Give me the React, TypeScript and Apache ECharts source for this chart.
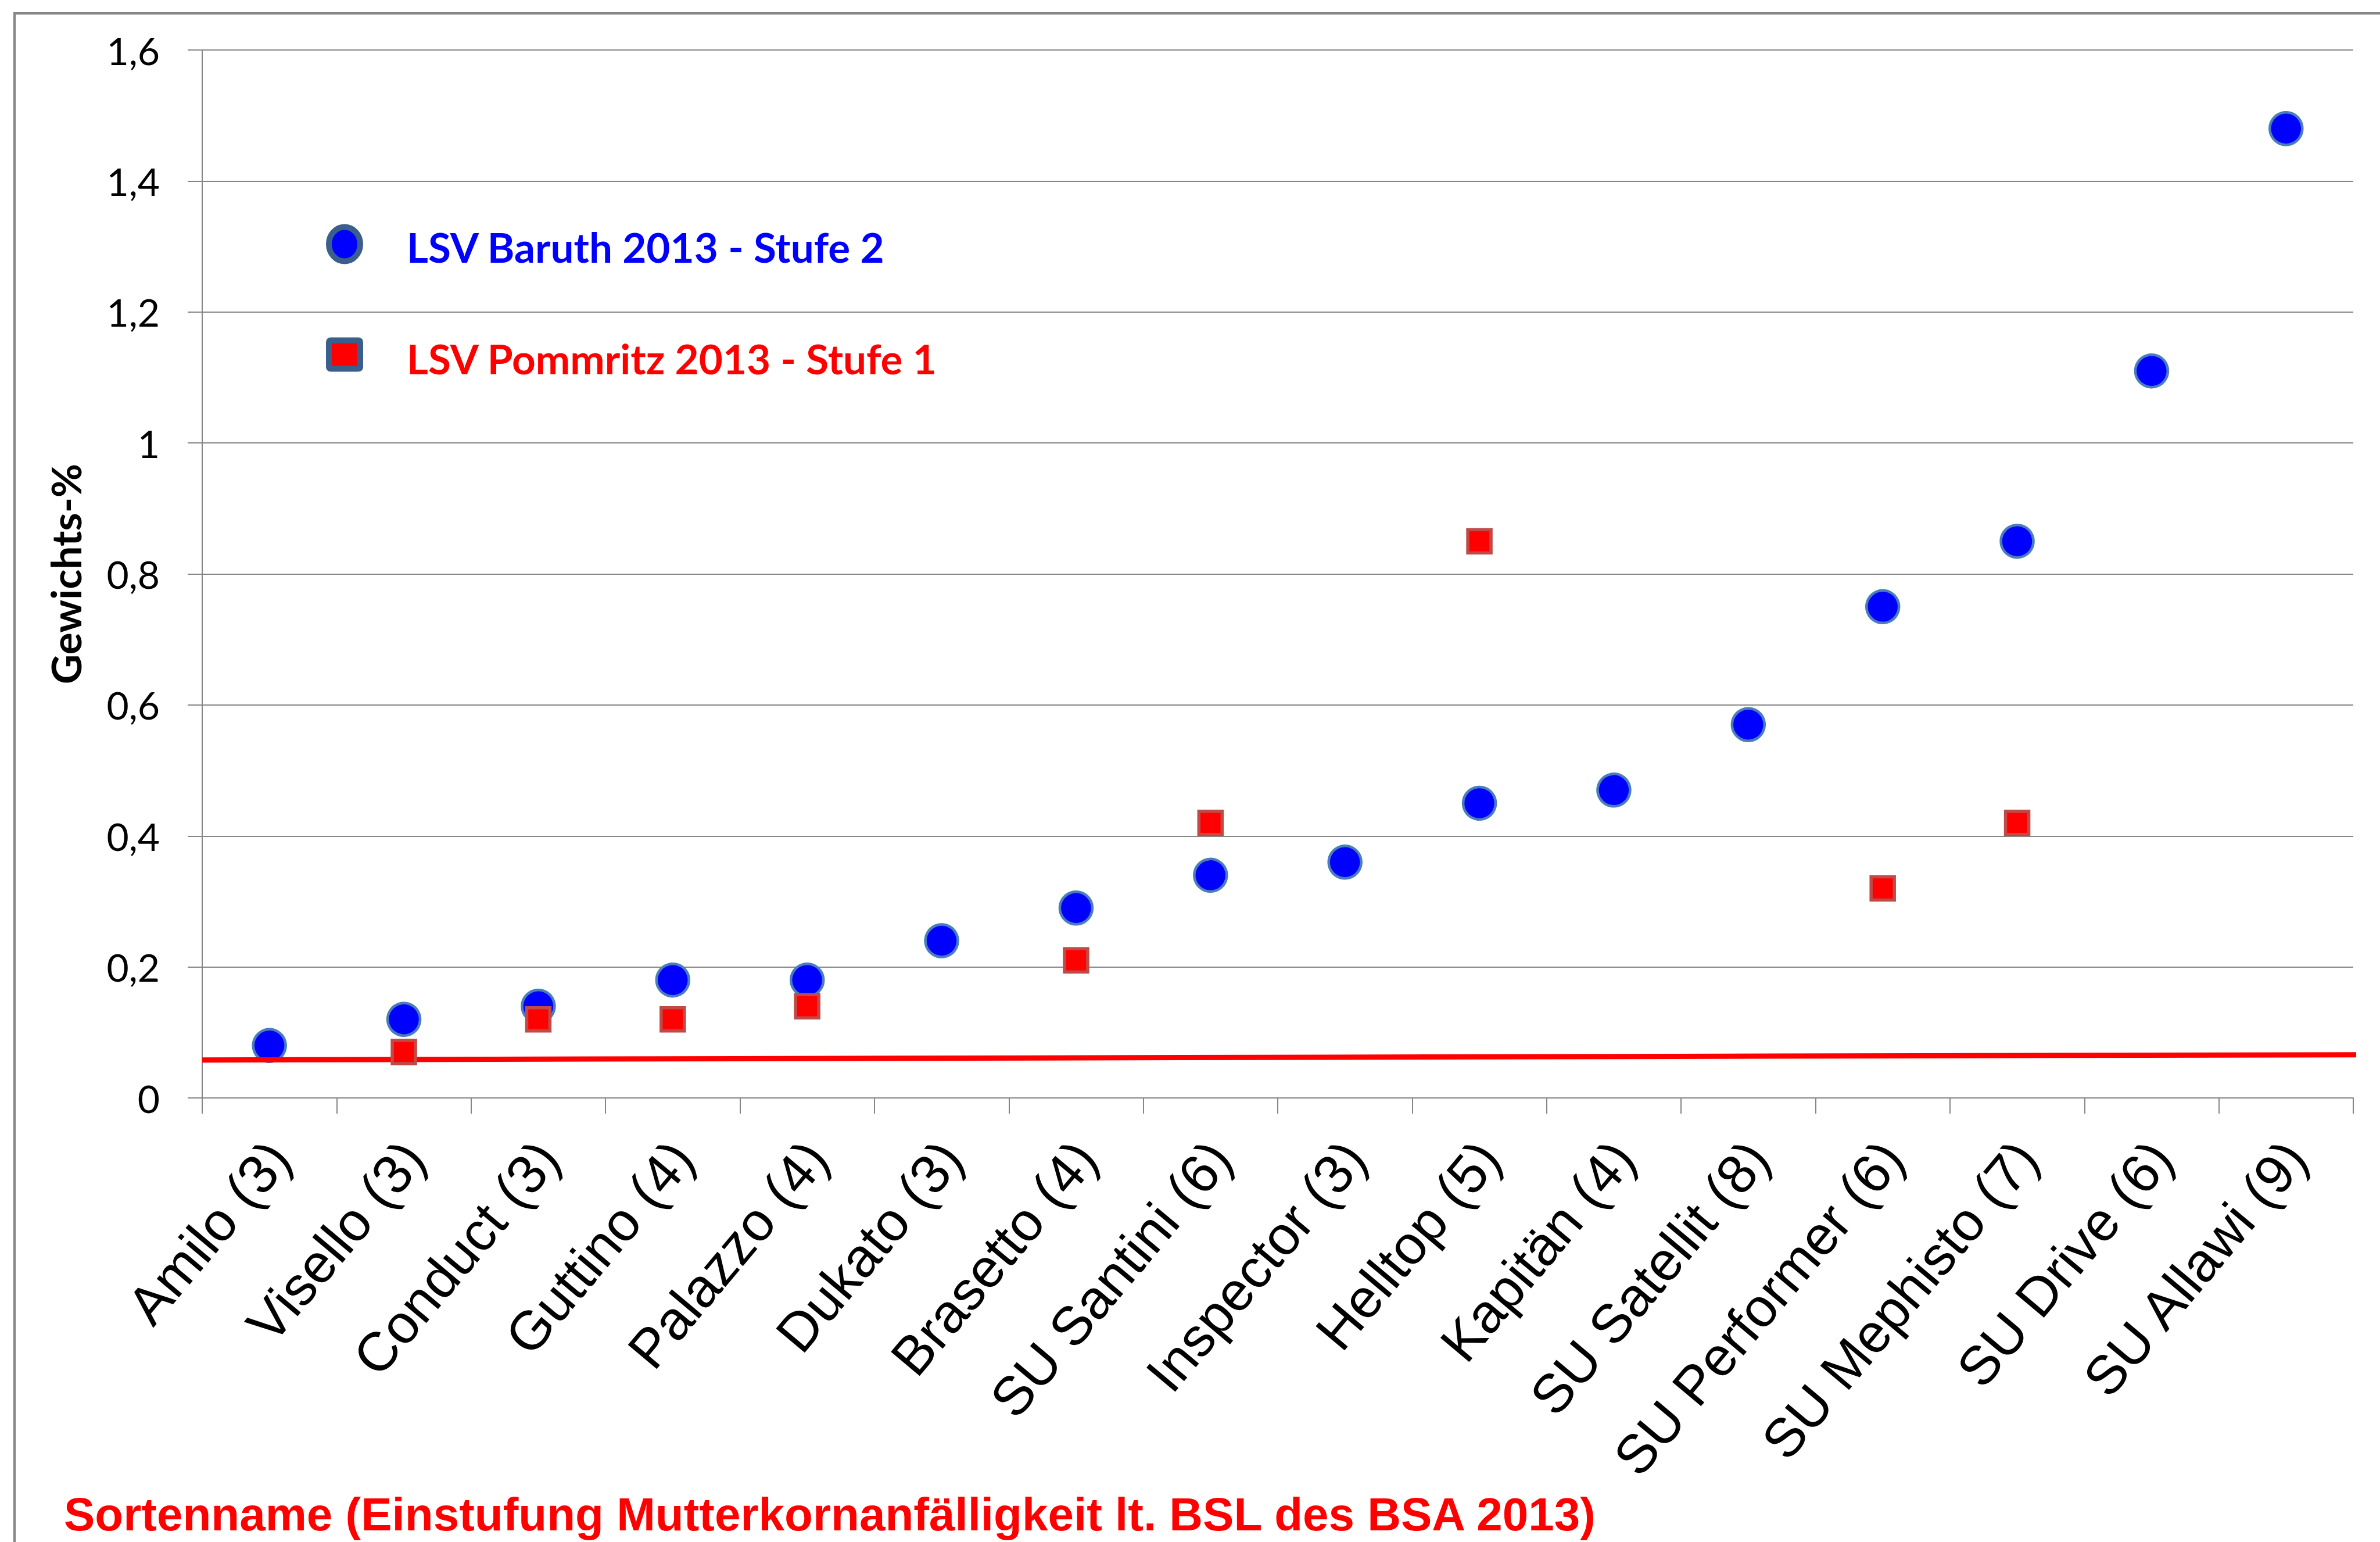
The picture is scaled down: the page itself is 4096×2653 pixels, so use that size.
import React, { useEffect, useRef } from "react";
import * as echarts from "echarts";

const categories = [
  "Amilo (3)",
  "Visello (3)",
  "Conduct (3)",
  "Guttino (4)",
  "Palazzo (4)",
  "Dukato (3)",
  "Brasetto (4)",
  "SU Santini (6)",
  "Inspector (3)",
  "Helltop (5)",
  "Kapitän (4)",
  "SU Satellit (8)",
  "SU Performer (6)",
  "SU Mephisto (7)",
  "SU Drive (6)",
  "SU Allawi (9)",
];

const baruthName = "LSV Baruth 2013 - Stufe 2";
const pommritzName = "LSV Pommritz 2013 - Stufe 1";

const baruth = [0.08, 0.12, 0.14, 0.18, 0.18, 0.24, 0.29, 0.34, 0.36, 0.45, 0.47, 0.57, 0.75, 0.85, 1.11, 1.48];
const pommritz = [null, 0.07, 0.12, 0.12, 0.14, null, 0.21, 0.42, null, 0.85, null, null, 0.32, 0.42, null, null];

// red reference line (start / end), x in category units
const refLine = [
  [0, 0.058],
  [16.05, 0.066],
];

const yMin = 0;
const yMax = 1.6;
const yStep = 0.2;

const yAxisName = "Gewichts-%";
const xAxisTitle = "Sortenname (Einstufung Mutterkornanfälligkeit lt. BSL des BSA 2013)";

const GRAY = "#868686";

export default function App() {
  const ref = useRef<HTMLDivElement>(null);

  useEffect(() => {
    if (!ref.current) return;
    const chart = echarts.init(ref.current, undefined, { renderer: "svg" });

    const option = {
      animation: false,
      backgroundColor: "#ffffff",
      grid: { left: 348, right: 46, top: 86, bottom: 2653 - 1889, containLabel: false },
      xAxis: [
        {
          type: "category",
          data: categories,
          boundaryGap: true,
          axisLine: { show: true, lineStyle: { color: GRAY, width: 2 } },
          axisTick: { show: true, interval: 0, length: 27, lineStyle: { color: GRAY, width: 2 } },
          splitLine: { show: false },
          axisLabel: {
            interval: 0,
            rotate: 50,
            margin: 34,
            align: "right",
            verticalAlign: "top",
            padding: [0, 30, 0, 0],
            color: "#000000",
            fontFamily: "'Liberation Sans', Arial, sans-serif",
            fontSize: 94,
          },
        },
        {
          type: "value",
          min: 0,
          max: 16,
          show: false,
          gridIndex: 0,
        },
      ],
      yAxis: {
        type: "value",
        min: yMin,
        max: yMax,
        interval: yStep,
        name: yAxisName,
        nameLocation: "middle",
        nameRotate: 90,
        nameGap: 200,
        nameTextStyle: {
          fontFamily: "Lato, 'Open Sans', sans-serif",
          fontWeight: "bold",
          fontSize: 71,
          color: "#000000",
        },
        axisLine: { show: true, lineStyle: { color: GRAY, width: 2 } },
        axisTick: { show: true, length: 25, lineStyle: { color: GRAY, width: 2 } },
        splitLine: { show: true, lineStyle: { color: GRAY, width: 2 } },
        axisLabel: {
          margin: 73,
          color: "#000000",
          fontFamily: "Lato, 'Open Sans', sans-serif",
          fontSize: 66,
          formatter: (v: number) => String(Math.round(v * 10) / 10).replace(".", ","),
        },
      },
      series: [
        {
          name: baruthName,
          type: "scatter",
          xAxisIndex: 0,
          yAxisIndex: 0,
          symbol: "circle",
          symbolSize: 56,
          z: 2,
          itemStyle: { color: "#0000FF", borderColor: "#4A7EBB", borderWidth: 4.5, opacity: 1 },
          data: baruth.map((v) => (v == null ? "-" : v)),
        },
        {
          name: "Referenz",
          type: "line",
          xAxisIndex: 1,
          yAxisIndex: 0,
          showSymbol: false,
          symbol: "none",
          clip: false,
          z: 3,
          lineStyle: { color: "#FF0000", width: 9 },
          data: refLine,
        },
        {
          name: pommritzName,
          type: "scatter",
          xAxisIndex: 0,
          yAxisIndex: 0,
          symbol: "rect",
          symbolSize: 40,
          z: 4,
          itemStyle: { color: "#FF0000", borderColor: "#BE4B48", borderWidth: 5.5, opacity: 1 },
          data: pommritz.map((v) => (v == null ? "-" : v)),
        },
      ],
      graphic: [
        // outer frame (left and top edges visible)
        { type: "line", shape: { x1: 25, y1: 21, x2: 25, y2: 2653 }, style: { stroke: GRAY, lineWidth: 4 }, z: 1 },
        { type: "line", shape: { x1: 23, y1: 23, x2: 4096, y2: 23 }, style: { stroke: GRAY, lineWidth: 4 }, z: 1 },
        // legend
        {
          type: "ellipse",
          shape: { cx: 593, cy: 420, rx: 27, ry: 29.5 },
          style: { fill: "#0000FF", stroke: "#3B5F8C", lineWidth: 10 },
          z: 10,
        },
        {
          type: "text",
          x: 700,
          y: 424,
          style: {
            text: baruthName,
            fill: "#0000FF",
            fontFamily: "Lato, 'Open Sans', sans-serif",
            fontWeight: "bold",
            fontSize: 71,
            verticalAlign: "middle",
            align: "left",
          },
          z: 10,
        },
        {
          type: "rect",
          shape: { x: 566, y: 585.5, width: 54, height: 49, r: 3 },
          style: { fill: "#FF0000", stroke: "#3B5F8C", lineWidth: 10 },
          z: 10,
        },
        {
          type: "text",
          x: 700,
          y: 616,
          style: {
            text: pommritzName,
            fill: "#FF0000",
            fontFamily: "Lato, 'Open Sans', sans-serif",
            fontWeight: "bold",
            fontSize: 71,
            verticalAlign: "middle",
            align: "left",
          },
          z: 10,
        },
        // x-axis title
        {
          type: "text",
          x: 110,
          y: 2605,
          style: {
            text: xAxisTitle,
            fill: "#FF0000",
            fontFamily: "'Liberation Sans', Arial, sans-serif",
            fontWeight: "bold",
            fontSize: 80,
            verticalAlign: "middle",
            align: "left",
          },
          z: 10,
        },
      ],
    };

    chart.setOption(option as any);
    return () => {
      chart.dispose();
    };
  }, []);

  return (
    <div
      ref={ref}
      style={{ position: "absolute", left: 0, top: 0, width: 4096, height: 2653, background: "#ffffff" }}
    />
  );
}
